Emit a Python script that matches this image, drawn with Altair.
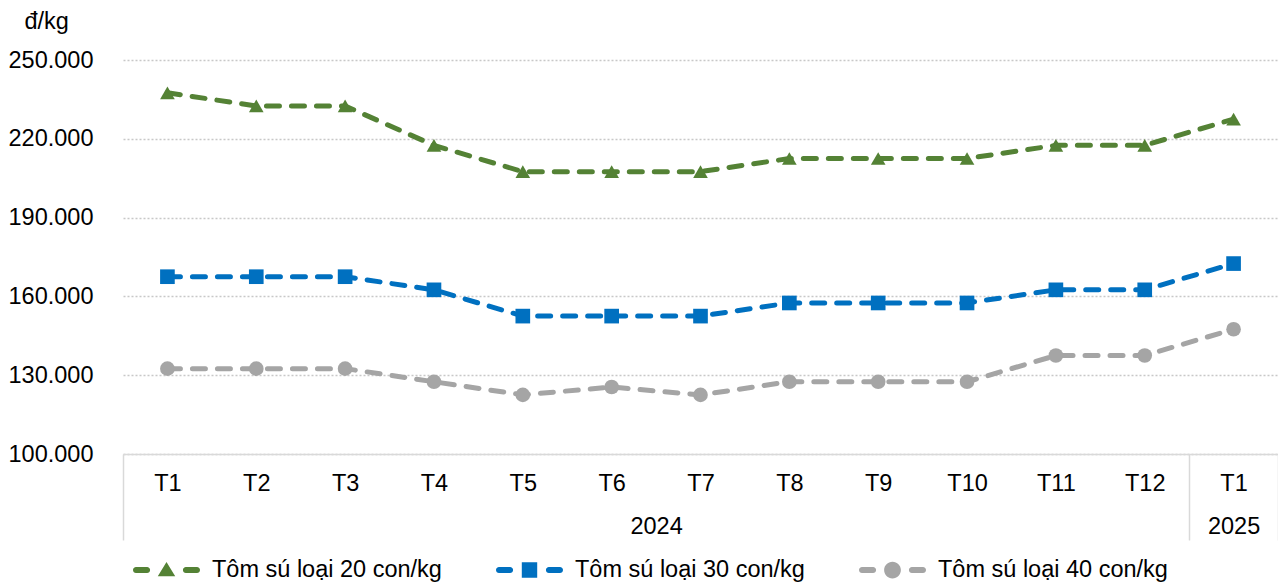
import altair as alt
import pandas as pd

# ---- data ----
months = ["T1", "T2", "T3", "T4", "T5", "T6", "T7", "T8", "T9", "T10", "T11", "T12", "T1"]
years = ["2024"] * 12 + ["2025"]
series_names = ["Tôm sú loại 20 con/kg", "Tôm sú loại 30 con/kg", "Tôm sú loại 40 con/kg"]
s20 = [237500, 232500, 232500, 217500, 207500, 207500, 207500, 212500, 212500, 212500, 217500, 217500, 227500]
s30 = [167500, 167500, 167500, 162500, 152500, 152500, 152500, 157500, 157500, 157500, 162500, 162500, 172500]
s40 = [132500, 132500, 132500, 127500, 122500, 125500, 122500, 127500, 127500, 127500, 137500, 137500, 147500]
y_ticks = [100000, 130000, 160000, 190000, 220000, 250000]

colors = ["#548235", "#0070C0", "#A5A5A5"]
shapes = ["triangle-up", "square", "circle"]
DASHES = ("M-0.91,-0.09H-0.58A0.09,0.09 0 0 1 -0.58,0.09H-0.91A0.09,0.09 0 0 1 -0.91,-0.09Z"
          "M0.58,-0.09H0.91A0.09,0.09 0 0 1 0.91,0.09H0.58A0.09,0.09 0 0 1 0.58,-0.09Z")
legend_paths = [
    DASHES + "M0,-0.24L0.26,0.19L-0.26,0.19Z",
    DASHES + "M-0.23,-0.23H0.23V0.23H-0.23Z",
    DASHES + "M-0.25,0A0.25,0.25 0 1 1 0.25,0A0.25,0.25 0 1 1 -0.25,0Z",
]

rows = []
for name, vals in zip(series_names, [s20, s30, s40]):
    for i, (m, yr, v) in enumerate(zip(months, years, vals)):
        rows.append({"idx": i, "month": m, "year": yr, "series": name, "value": v})
df = pd.DataFrame(rows)

# year label positions (centre of each year's months) and group boundaries
year_list = []
for yr in years:
    if yr not in year_list:
        year_list.append(yr)
year_pos = [sum(i for i, y in enumerate(years) if y == yr) / years.count(yr) for yr in year_list]
boundaries = [-0.5] + [i + 0.5 for i in range(len(years) - 1) if years[i] != years[i + 1]] + [len(years) - 0.5]

FONT = "Liberation Sans"
FS = 23.5
TXT = "#000000"
LINE = "#D9D9D9"

month_expr = "[" + ",".join(f"'{m}'" for m in months) + "][datum.value]"
year_expr = ""
for p, yr in zip(year_pos, year_list):
    year_expr += f"datum.value == {p} ? '{yr}' : "
year_expr += "''"
ylab_expr = "replace(format(datum.value, ','), regexp(',', 'g'), '.')"

xdom = [-0.5, len(months) - 0.5]


def xscale():
    return alt.Scale(domain=xdom, nice=False, zero=False)


yscale = alt.Scale(domain=[100000, 250000], nice=False, zero=False)
cscale = alt.Scale(domain=series_names, range=colors)

base = alt.Chart(df)

lines = base.mark_line(strokeWidth=5, strokeDash=[13, 12], strokeCap="round").encode(
    x=alt.X("idx:Q", scale=xscale(),
            axis=alt.Axis(values=list(range(len(months))), labelExpr=month_expr, orient="bottom",
                          title=None, ticks=False, grid=False, domain=True, domainColor=LINE,
                          domainWidth=1.5, labelPadding=17, labelFont=FONT, labelFontSize=FS,
                          labelColor=TXT, labelFlush=False, labelOverlap=False)),
    y=alt.Y("value:Q", scale=yscale,
            axis=alt.Axis(values=y_ticks, labelExpr=ylab_expr, title="đ/kg", titleAngle=0,
                          titleAlign="left", titleBaseline="alphabetic", titleX=-99, titleY=-32,
                          titleFont=FONT, titleFontSize=FS, titleFontWeight="normal", titleColor=TXT,
                          grid=True, gridDash=[2, 2], gridColor="#C8C8C8", gridWidth=1.3,
                          domain=False, ticks=False, labelPadding=30, labelFont=FONT,
                          labelFontSize=FS, labelColor=TXT, labelFlush=False)),
    color=alt.Color("series:N", scale=cscale, legend=None),
)

points = base.mark_point(filled=True, size=215, opacity=1).encode(
    x=alt.X("idx:Q", scale=xscale(),
            axis=alt.Axis(values=year_pos, labelExpr=year_expr, orient="bottom", title=None,
                          ticks=False, grid=False, domain=False, labelPadding=60, labelFont=FONT,
                          labelFontSize=FS, labelColor=TXT, labelFlush=False, labelOverlap=False)),
    y=alt.Y("value:Q", scale=yscale),
    color=alt.Color("series:N", scale=cscale, legend=None),
    shape=alt.Shape("series:N", scale=alt.Scale(domain=series_names, range=shapes), legend=None),
)

leg = alt.Legend(orient="none", legendX=10, legendY=476.5, direction="horizontal", columns=3,
                 columnPadding=54, symbolSize=4489, labelOffset=12, labelFont=FONT,
                 labelFontSize=FS, labelColor=TXT, labelLimit=600, title=None, padding=0,
                 symbolStrokeWidth=0, symbolOpacity=1)

legend_layer = base.transform_filter("false").mark_point(filled=True, opacity=1).encode(
    x=alt.X("idx:Q", scale=xscale(),
            axis=alt.Axis(values=boundaries, orient="bottom", title=None, labels=False, grid=False,
                          domain=False, ticks=True, tickSize=86, tickColor=LINE, tickWidth=1.5)),
    y=alt.Y("value:Q", scale=yscale),
    color=alt.Color("series:N", scale=cscale, legend=leg),
    shape=alt.Shape("series:N", scale=alt.Scale(domain=series_names, range=legend_paths), legend=leg),
)

chart = alt.layer(lines, points, legend_layer).resolve_scale(
    x="independent", color="independent", shape="independent"
).properties(
    width=1155, height=394,
    autosize=alt.AutoSizeParams(type="none"),
    padding={"left": 115, "top": 52, "right": 0, "bottom": 128},
).configure_view(stroke=None)

chart.save("out.html", embed_options={"renderer": "svg", "actions": False})
